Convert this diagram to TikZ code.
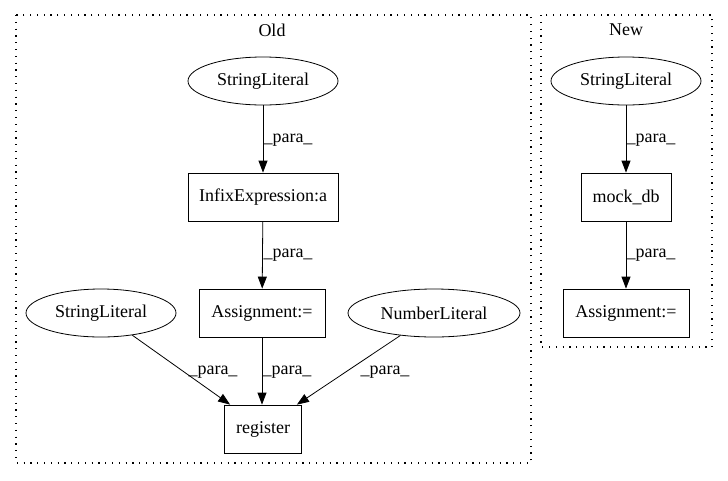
\documentclass[tikz,border=0pt]{standalone}
\usepackage{fontspec}
\setmainfont{Liberation Serif}
\usetikzlibrary{shapes.geometric,arrows.meta}
\tikzset{
  lit/.style={draw, ellipse, line width=0.8pt, minimum width=150pt, minimum height=48pt, inner sep=0pt, font=\fontsize{18pt}{20pt}\selectfont},
  stmt/.style={draw, rectangle, line width=0.8pt, minimum height=48pt, inner sep=0pt, font=\fontsize{18pt}{20pt}\selectfont},
  lbl/.style={inner sep=0pt, font=\fontsize{18pt}{20pt}\selectfont},
  flow/.style={line width=0.8pt, -{Triangle[length=12pt,width=9pt]}},
  clus/.style={line width=1.2pt, dash pattern=on 1.2pt off 5.6pt}
}
\begin{document}
\begin{tikzpicture}[x=1pt,y=-1pt]
    \useasboundingbox (0,0) rectangle (728,480);
    % clusters
    \draw [clus] (16,15) rectangle (531,463);
    \draw [clus] (541,15) rectangle (712,347);
    \node [lbl] (old) at (272,30) {Old};
    \node [lbl] (new) at (626,30) {New};
    % old side
    \node [lit] (strA) at (263,81) {StringLiteral};
    \node [stmt, minimum width=150pt] (infix) at (263,197) {InfixExpression:a};
    \node [stmt, minimum width=126pt] (assignA) at (262,313) {Assignment:=};
    \node [lit] (strB) at (101,313) {StringLiteral};
    \node [lit, minimum width=172pt] (num) at (434,313) {NumberLiteral};
    \node [stmt, minimum width=77pt] (reg) at (263,429) {register};
    \draw [flow] (strA) -- (infix);
    \draw [flow] (infix) -- (assignA);
    \draw [flow] (assignA.south) -- (reg.north -| assignA.south);
    \draw [flow] (strB) -- ([xshift=6pt]reg.north west);
    \draw [flow] (num) -- ([xshift=-5pt]reg.north east);
    \node [lbl] (pA) at (288,140) {\_para\_};
    \node [lbl] (pB) at (288,255) {\_para\_};
    \node [lbl] (pC) at (213,372) {\_para\_};
    \node [lbl] (pD) at (287,372) {\_para\_};
    \node [lbl] (pE) at (385,372) {\_para\_};
    % new side
    \node [lit] (strN) at (626,81) {StringLiteral};
    \node [stmt, minimum width=90pt] (mock) at (626,197) {mock\_db};
    \node [stmt, minimum width=126pt] (assignN) at (626,313) {Assignment:=};
    \draw [flow] (strN) -- (mock);
    \draw [flow] (mock) -- (assignN);
    \node [lbl] (pF) at (651,140) {\_para\_};
    \node [lbl] (pG) at (651,255) {\_para\_};
\end{tikzpicture}
\end{document}
